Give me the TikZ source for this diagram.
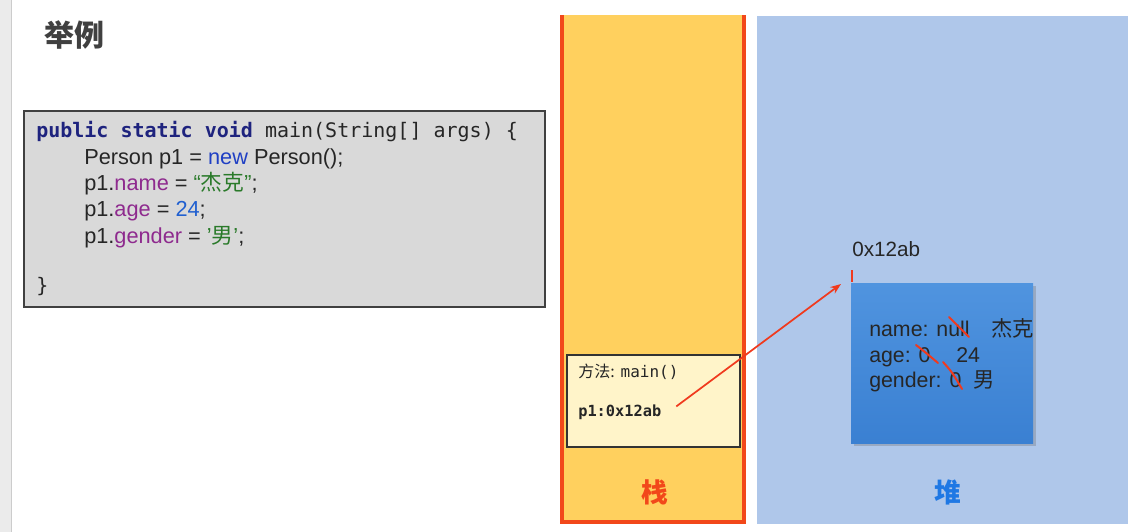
\documentclass[tikz,border=0pt]{standalone}
\usepackage{fontspec}
\setmainfont{Liberation Sans}
\setmonofont{DejaVu Sans Mono}
\newfontfamily\cjk{Noto Sans CJK SC}
\usetikzlibrary{arrows.meta}
\definecolor{stackfill}{HTML}{FFD05E}
\definecolor{stackline}{HTML}{F2481A}
\definecolor{heapfill}{HTML}{AFC7EA}
\definecolor{objtop}{HTML}{5094DF}
\definecolor{objbot}{HTML}{3A80D2}
\definecolor{codefill}{HTML}{D9D9D9}
\definecolor{kw}{HTML}{1E237E}
\definecolor{kwnew}{HTML}{1F3FC4}
\definecolor{field}{HTML}{8E2A8E}
\definecolor{strc}{HTML}{2A7A2A}
\definecolor{numc}{HTML}{2160D0}
\definecolor{framefill}{HTML}{FFF4C9}
\definecolor{heapword}{HTML}{1F78E4}
\definecolor{titlec}{HTML}{404040}
\definecolor{strike}{HTML}{F03A1E}
\tikzset{
  txt/.style={inner sep=0pt, anchor=base west},
  code/.style={txt, font=\fontsize{16.3}{18}\selectfont, text=black!85},
  mono/.style={txt, font=\ttfamily\fontsize{15}{17}\selectfont, text=black!85},
  objtxt/.style={txt, font=\fontsize{16}{18}\selectfont, text=black!85},
  strikeline/.style={draw=strike, line width=1.5pt, line cap=round},
}
\begin{document}
\begin{tikzpicture}[x=0.75pt,y=-0.75pt]
\useasboundingbox (0,0) rectangle (1132,532);
\fill[white] (0,0) rectangle (1132,532);
% left strip
\fill[black!8] (0,0) rectangle (11,532);
\draw[black!20, line width=0.75pt] (11,0) -- (11,532);
% title
\node[txt, font=\cjk\bfseries\fontsize{22.5}{24}\selectfont, text=titlec] (title) at (44,46) {举例};
% code box
\draw[fill=codefill, draw=black!75, line width=1.2pt] (24,111) rectangle (545,307);
\node[mono] (l1) at (36,137) {{\bfseries\color{kw}public static void} main(String[] args) \{};
\node[code] (l2) at (84,164) {Person p1 = {\color{kwnew}new} Person();};
\node[code] (l3) at (84,190) {p1.{\color{field}name} = {\color{strc}“{\cjk 杰克}”};};
\node[code] (l4) at (84,216) {p1.{\color{field}age} = {\color{numc}24};};
\node[code] (l5) at (84,243) {p1.{\color{field}gender} = {\color{strc}'{\cjk 男}'};};
\node[mono] (l6) at (36,292) {\}};
% stack
\fill[stackfill] (562,15) rectangle (744,522);
\draw[stackline, line width=3pt] (562,15) -- (562,522) -- (744,522) -- (744,15);
\draw[fill=framefill, draw=black!80, line width=0.8pt] (567,355) rectangle (740,447);
\node[txt, font=\fontsize{12}{14}\selectfont, text=black!85] (method) at (578,377) {{\cjk 方法:} \texttt{main()}};
\node[txt, font=\ttfamily\bfseries\fontsize{11.5}{13}\selectfont, text=black!85] (p1) at (578,416) {p1:0x12ab};
\node[font=\cjk\bfseries\fontsize{20}{22}\selectfont, text=stackline] (stackword) at (655,492) {栈};
% heap
\fill[heapfill] (757,16) rectangle (1128,524);
\fill[black!60, opacity=0.3] (854,286) rectangle (1036,446);
\shade[top color=objtop, bottom color=objbot] (851,283) rectangle (1033,443);
\node[txt, font=\fontsize{15.5}{17}\selectfont, text=black!85] (addr) at (852,256) {0x12ab};
\coordinate (ticktop) at (852,270);
\coordinate (tickbot) at (852,282);
\draw[strike, line width=1.5pt] (ticktop) -- (tickbot);
\node[objtxt] (nm) at (869,336) {name: null};
\node[objtxt] (nmv) at (991,336) {\cjk 杰克};
\node[objtxt] (ag) at (869,362) {age: 0};
\node[objtxt] (agv) at (956,362) {24};
\node[objtxt] (gd) at (869,387) {gender: 0};
\node[objtxt] (gdv) at (973,387) {\cjk 男};
\draw[strikeline] (949,317) -- (969,337);
\draw[strikeline] (916,345) .. controls (925,352) .. (938,363);
\draw[strikeline] (943,362) .. controls (952,372) .. (962,389);
\node[font=\cjk\bfseries\fontsize{20}{22}\selectfont, text=heapword] (heapword) at (948,492) {堆};
% arrow
\coordinate (arrowend) at (841,284);
\draw[strike, line width=1.3pt, -{Stealth[length=8pt,width=6pt]}] ([xshift=11pt,yshift=4pt]p1.east) -- (arrowend);
\end{tikzpicture}
\end{document}
